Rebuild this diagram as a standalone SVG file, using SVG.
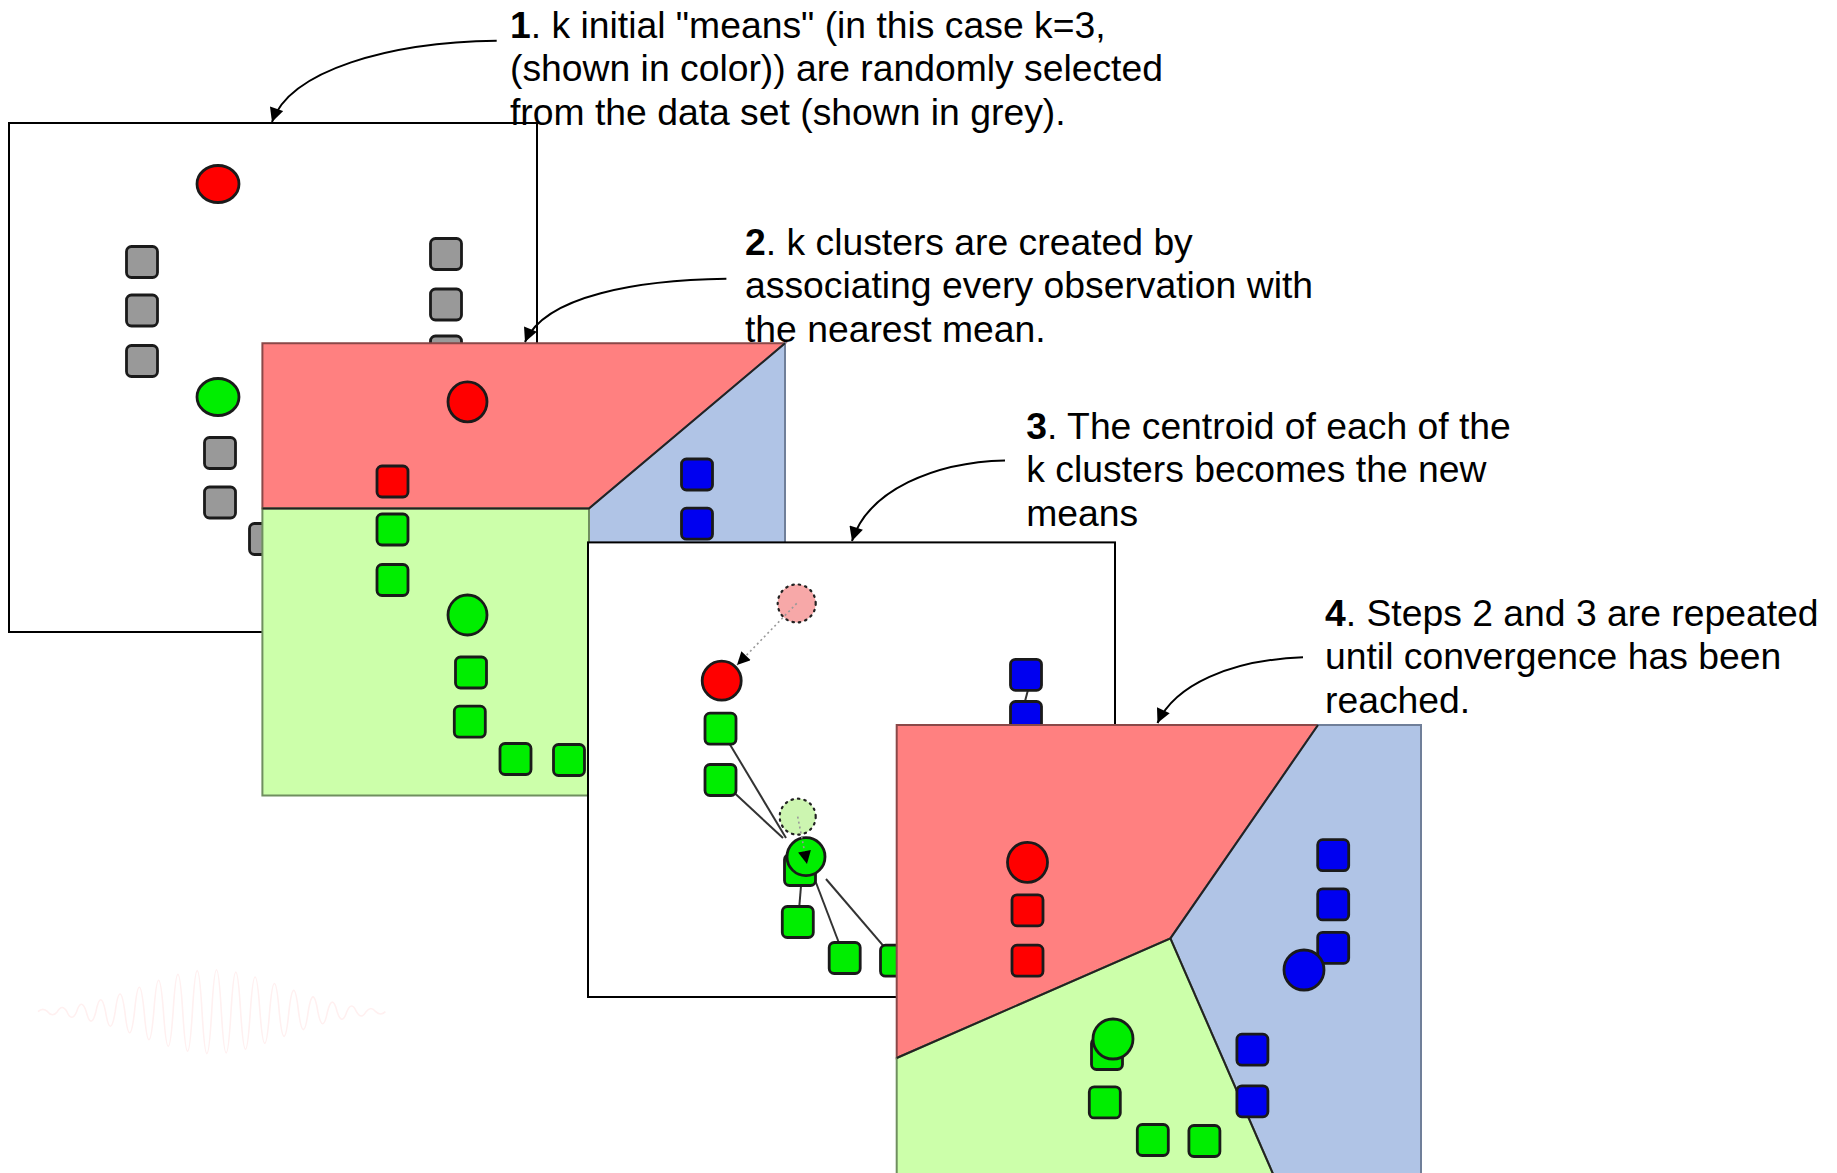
<svg xmlns="http://www.w3.org/2000/svg" width="1837" height="1173" viewBox="0 0 1837 1173">
  <defs>
    <marker id="arrow" viewBox="0 0 10 10" refX="10" refY="5" markerUnits="userSpaceOnUse" markerWidth="16" markerHeight="14" orient="auto">
      <path d="M0,0 L10,5 L0,10 z" fill="#000"/>
    </marker>
    <marker id="arrowSmall" viewBox="0 0 10 10" refX="10" refY="5" markerUnits="userSpaceOnUse" markerWidth="15" markerHeight="13" orient="auto">
      <path d="M0,0 L10,5 L0,10 z" fill="#000"/>
    </marker>
    <style>
      .frame { fill: #fff; stroke: #000; stroke-width: 2; }
      .pt { stroke: #1a1a1a; stroke-width: 2.8; }
      .sq { stroke: #1a1a1a; stroke-width: 2.8; }
      .grey { fill: #999; }
      .red { fill: #ff0000; }
      .green { fill: #00ee00; }
      .blue { fill: #0000f0; }
      .rRed { fill: #ff8080; stroke: #8a4848; stroke-width: 2; }
      .rGreen { fill: #ccffaa; stroke: #6f8f5f; stroke-width: 2; }
      .rBlue { fill: #b0c4e6; stroke: #707f99; stroke-width: 2; }
      .border { fill: none; stroke: #222; stroke-width: 2; }
      .link { stroke: #333; stroke-width: 2; fill: none; }
      .ghost { stroke: #222; stroke-width: 2.2; stroke-dasharray: 1.5 5; stroke-linecap: round; }
      .trail { stroke: #999; stroke-width: 1.6; stroke-dasharray: 2 3; fill: none; }
      .conn { stroke: #000; stroke-width: 2; fill: none; }
      .label { font-family: "Liberation Sans", Arial, sans-serif; font-size: 37.3px; fill: #000; }
      .label tspan.n { font-weight: bold; }
    </style>
  </defs>

  <!-- faint wavelet trace in the lower left -->
  <path id="wavelet" fill="none" stroke="#fff0f0" stroke-width="1.6" d="M38,1011.7 Q42.8,1007.1 47.65,1011.7 Q52.45,1017.9 57.3,1011.7 Q62.1,1003.3 66.95,1011.7 Q71.75,1022.9 76.6,1011.7 Q81.4,996.9 86.25,1011.7 Q91.05,1030.5 95.9,1011.7 Q100.7,987.9 105.55,1011.7 Q110.35,1040.9 115.2,1011.7 Q120,976.3 124.85,1011.7 Q129.65,1053.7 134.5,1011.7 Q139.3,962.7 144.15,1011.7 Q148.95,1067.7 153.8,1011.7 Q158.6,948.9 163.45,1011.7 Q168.25,1080.9 173.1,1011.7 Q177.9,937.1 182.75,1011.7 Q187.55,1090.7 192.4,1011.7 Q197.2,929.5 202.05,1011.7 Q206.85,1095.5 211.7,1011.7 Q216.5,927.9 221.35,1011.7 Q226.15,1094.1 231,1011.7 Q235.8,932.5 240.65,1011.7 Q245.45,1086.7 250.3,1011.7 Q255.1,942.3 259.95,1011.7 Q264.75,1074.9 269.6,1011.7 Q274.4,955.3 279.25,1011.7 Q284.05,1061.1 288.9,1011.7 Q293.7,969.1 298.55,1011.7 Q303.35,1047.5 308.2,1011.7 Q313,982.1 317.85,1011.7 Q322.65,1035.7 327.5,1011.7 Q332.3,992.5 337.15,1011.7 Q341.95,1026.7 346.8,1011.7 Q351.6,1000.3 356.45,1011.7 Q361.25,1020.3 366.1,1011.7 Q370.9,1005.3 375.75,1011.7 Q380.55,1016.3 385.4,1011.7"/>

  <!-- step 1: initial means picked from the grey data -->
  <g id="step1">
    <rect class="frame" x="9" y="123" width="528" height="509"/>
    <ellipse class="pt red" cx="218" cy="184" rx="21" ry="18.5"/>
    <rect class="sq grey" x="126.5" y="246.5" width="31" height="31" rx="5"/>
    <rect class="sq grey" x="126.5" y="295" width="31" height="31" rx="5"/>
    <rect class="sq grey" x="126.5" y="345.5" width="31" height="31" rx="5"/>
    <rect class="sq grey" x="430.5" y="238.5" width="31" height="31" rx="5"/>
    <rect class="sq grey" x="430.5" y="289" width="31" height="31" rx="5"/>
    <rect class="sq grey" x="430.5" y="336" width="31" height="31" rx="5"/>
    <ellipse class="pt green" cx="218" cy="397" rx="21" ry="18.5"/>
    <rect class="sq grey" x="204.5" y="437.5" width="31" height="31" rx="5"/>
    <rect class="sq grey" x="204.5" y="487" width="31" height="31" rx="5"/>
    <rect class="sq grey" x="249.5" y="523.5" width="31" height="31" rx="5"/>
  </g>

  <!-- step 2: assignment to the nearest mean -->
  <g id="step2">
    <polygon class="rRed" points="262.4,343.3 785,343.3 589,508.5 262.4,508.5"/>
    <polygon class="rBlue" points="785,343.3 785,795.5 589,795.5 589,508.5"/>
    <polygon class="rGreen" points="262.4,508.5 589,508.5 589,795.5 262.4,795.5"/>
    <polyline class="border" points="262.4,508.5 589,508.5 785,343.3"/>
    <ellipse class="pt red" cx="467.5" cy="401.8" rx="19.5" ry="20"/>
    <rect class="sq red" x="377" y="466" width="31" height="31" rx="5"/>
    <rect class="sq green" x="377" y="514" width="31" height="31" rx="5"/>
    <rect class="sq green" x="377" y="564.5" width="31" height="31" rx="5"/>
    <ellipse class="pt green" cx="467.5" cy="615" rx="19.5" ry="20"/>
    <rect class="sq green" x="455.5" y="657" width="31" height="31" rx="5"/>
    <rect class="sq green" x="454.3" y="706.2" width="31" height="31" rx="5"/>
    <rect class="sq green" x="500" y="743.5" width="31" height="31" rx="5"/>
    <rect class="sq green" x="553.5" y="744.5" width="31" height="31" rx="5"/>
    <rect class="sq blue" x="681.5" y="459" width="31" height="31" rx="5"/>
    <rect class="sq blue" x="681.5" y="508.2" width="31" height="31" rx="5"/>
  </g>

  <!-- step 3: means move to the cluster centroids -->
  <g id="step3">
    <rect class="frame" x="588" y="542.4" width="527" height="454.6"/>
    <line class="link" x1="720.5" y1="728.7" x2="786" y2="838"/>
    <line class="link" x1="720.5" y1="780" x2="783" y2="838"/>
    <line class="link" x1="801.5" y1="880" x2="798" y2="922"/>
    <line class="link" x1="815" y1="880" x2="844.7" y2="958"/>
    <line class="link" x1="826" y1="879" x2="896" y2="960.7"/>
    <line class="link" x1="1028.5" y1="688" x2="1024" y2="705"/>
    <circle class="ghost" cx="796.7" cy="603.4" r="19" fill="#f7a8a8"/>
    <line class="trail" x1="796.7" y1="603.4" x2="737" y2="665" marker-end="url(#arrowSmall)"/>
    <circle class="pt red" cx="721.7" cy="680.7" r="19.5"/>
    <rect class="sq green" x="705" y="713.2" width="31" height="31" rx="5"/>
    <rect class="sq green" x="705" y="764.5" width="31" height="31" rx="5"/>
    <circle class="ghost" cx="797.7" cy="816.7" r="18" fill="#ccf5b0"/>
    <rect class="sq green" x="784.5" y="854.5" width="31" height="31" rx="5"/>
    <circle class="pt green" cx="806" cy="856.7" r="19"/>
    <line class="trail" x1="797.7" y1="816.7" x2="807" y2="864" marker-end="url(#arrowSmall)"/>
    <rect class="sq green" x="782.3" y="906.5" width="31" height="31" rx="5"/>
    <rect class="sq green" x="829.2" y="942.5" width="31" height="31" rx="5"/>
    <rect class="sq green" x="880.5" y="945.2" width="31" height="31" rx="5"/>
    <rect class="sq blue" x="1010.5" y="659.3" width="31" height="31" rx="5"/>
    <rect class="sq blue" x="1010.5" y="701.5" width="31" height="31" rx="5"/>
  </g>

  <!-- step 4: converged partition -->
  <g id="step4">
    <polygon class="rRed" points="896.7,725 1318,725 1170.4,938.4 896.7,1058"/>
    <polygon class="rBlue" points="1318,725 1421,725 1421,1175 1273.5,1175 1170.4,938.4"/>
    <polygon class="rGreen" points="896.7,1058 1170.4,938.4 1273.5,1175 896.7,1175"/>
    <polyline class="border" points="896.7,1058 1170.4,938.4 1318,725"/>
    <line class="border" x1="1170.4" y1="938.4" x2="1273.5" y2="1175"/>
    <circle class="pt red" cx="1027.5" cy="862.3" r="20"/>
    <rect class="sq red" x="1012" y="894.8" width="31" height="31" rx="5"/>
    <rect class="sq red" x="1012" y="945.2" width="31" height="31" rx="5"/>
    <rect class="sq blue" x="1317.7" y="839.7" width="31" height="31" rx="5"/>
    <rect class="sq blue" x="1317.7" y="888.9" width="31" height="31" rx="5"/>
    <rect class="sq blue" x="1317.7" y="932.3" width="31" height="31" rx="5"/>
    <circle class="pt blue" cx="1304" cy="970" r="20"/>
    <rect class="sq blue" x="1236.9" y="1034.2" width="31" height="31" rx="5"/>
    <rect class="sq blue" x="1236.9" y="1085.8" width="31" height="31" rx="5"/>
    <rect class="sq green" x="1091.5" y="1038.5" width="31" height="31" rx="5"/>
    <circle class="pt green" cx="1113" cy="1039" r="20"/>
    <rect class="sq green" x="1089.3" y="1086.9" width="31" height="31" rx="5"/>
    <rect class="sq green" x="1137.3" y="1124.5" width="31" height="31" rx="5"/>
    <rect class="sq green" x="1188.9" y="1125.5" width="31" height="31" rx="5"/>
  </g>

  <!-- callout arrows from each caption to its panel -->
  <g id="connectors">
    <path class="conn" d="M496.7,40.7 C390,42 290,70 272,122" marker-end="url(#arrow)"/>
    <path class="conn" d="M726.4,278.8 C640,280 545,295 525,342" marker-end="url(#arrow)"/>
    <path class="conn" d="M1005,460.4 C935,462 868,490 852,541" marker-end="url(#arrow)"/>
    <path class="conn" d="M1303,657.3 C1230,660 1175,685 1157.5,723" marker-end="url(#arrow)"/>
  </g>

  <!-- captions -->
  <g id="caption1">
    <text class="label" x="510" y="37.5"><tspan class="n">1</tspan>. k initial "means" (in this case k=3,</text>
    <text class="label" x="510" y="81">(shown in color)) are randomly selected</text>
    <text class="label" x="510" y="125">from the data set (shown in grey).</text>
  </g>
  <g id="caption2">
    <text class="label" x="745" y="254.5"><tspan class="n">2</tspan>. k clusters are created by</text>
    <text class="label" x="745" y="298">associating every observation with</text>
    <text class="label" x="745" y="342">the nearest mean.</text>
  </g>
  <g id="caption3">
    <text class="label" x="1026.3" y="438.5"><tspan class="n">3</tspan>. The centroid of each of the</text>
    <text class="label" x="1026.3" y="482">k clusters becomes the new</text>
    <text class="label" x="1026.3" y="525.5">means</text>
  </g>
  <g id="caption4">
    <text class="label" x="1325" y="625.5"><tspan class="n">4</tspan>. Steps 2 and 3 are repeated</text>
    <text class="label" x="1325" y="669">until convergence has been</text>
    <text class="label" x="1325" y="712.5">reached.</text>
  </g>
</svg>
